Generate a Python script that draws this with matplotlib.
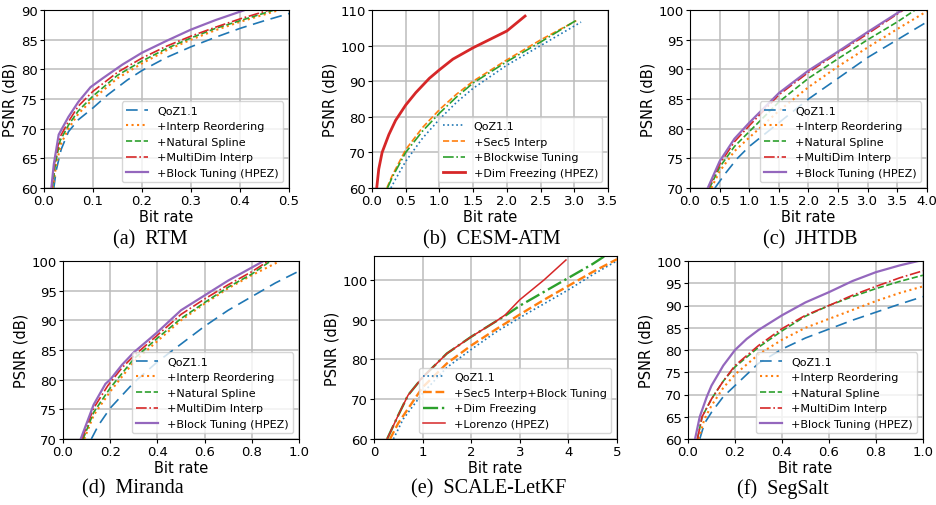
import numpy as np
import matplotlib
matplotlib.use("Agg")
import matplotlib.pyplot as plt

W, H = 937, 506

# ---- (a) RTM ----
rtm_qoz_x = [0.02, 0.025, 0.035, 0.05, 0.07, 0.1, 0.13, 0.17, 0.2, 0.25, 0.3, 0.35, 0.4, 0.45, 0.5]
rtm_qoz_y = [60, 63, 66.5, 69.5, 71.5, 73.5, 75.7, 78.2, 79.8, 82, 83.8, 85.4, 86.9, 88.2, 89.4]
rtm_reo_x = [0.018, 0.025, 0.035, 0.05, 0.07, 0.1, 0.15, 0.2, 0.25, 0.3, 0.35, 0.4, 0.48]
rtm_reo_y = [60, 64, 67.5, 70, 72.5, 75, 78.5, 81, 83.2, 85, 86.6, 88, 90]
rtm_spl_x = [0.017, 0.024, 0.033, 0.05, 0.07, 0.1, 0.15, 0.2, 0.25, 0.3, 0.35, 0.4, 0.47]
rtm_spl_y = [60, 64.5, 68, 70.6, 73, 75.5, 79, 81.4, 83.5, 85.3, 86.9, 88.2, 90]
rtm_mdi_x = [0.016, 0.022, 0.032, 0.05, 0.07, 0.1, 0.15, 0.2, 0.25, 0.3, 0.35, 0.4, 0.46]
rtm_mdi_y = [60, 64.5, 68.5, 71.2, 73.8, 76.3, 79.5, 81.9, 83.9, 85.6, 87.1, 88.5, 90]
rtm_blk_x = [0.015, 0.02, 0.03, 0.05, 0.07, 0.095, 0.12, 0.16, 0.2, 0.25, 0.3, 0.35, 0.41]
rtm_blk_y = [60, 64, 69, 72, 74.5, 77, 78.5, 80.8, 82.8, 84.8, 86.7, 88.3, 90]

# ---- (b) CESM-ATM ----
cesm_qoz_x = [0.28, 0.35, 0.5, 0.75, 1.0, 1.25, 1.5, 2.0, 2.5, 3.1]
cesm_qoz_y = [60, 62.5, 67.5, 74, 79.3, 84, 88, 94.5, 100, 106.6]
cesm_sec_x = [0.22, 0.3, 0.5, 0.75, 1.0, 1.25, 1.5, 2.0, 2.5, 3.03]
cesm_sec_y = [60, 63.5, 70.8, 77, 82, 86.3, 90, 96, 101.6, 107]
cesm_blk_x = [0.23, 0.3, 0.5, 0.75, 1.0, 1.25, 1.5, 2.0, 2.5, 3.02]
cesm_blk_y = [60, 63, 70, 76, 81, 85.5, 89.5, 95.5, 101, 107]
cesm_dim_x = [0.07, 0.1, 0.15, 0.25, 0.35, 0.5, 0.65, 0.85, 1.0, 1.2, 1.5, 2.0, 2.27]
cesm_dim_y = [60, 65.3, 70, 75, 79, 83.3, 86.8, 90.8, 93.2, 96.2, 99.4, 104.1, 108.3]

# ---- (c) JHTDB ----
jh_qoz_x = [0.42, 0.6, 0.8, 1.0, 1.5, 2.0, 2.5, 3.0, 3.5, 4.0]
jh_qoz_y = [70, 72.5, 75, 77, 81, 85, 88.5, 92, 95, 98]
jh_reo_x = [0.36, 0.5, 0.75, 1.0, 1.5, 2.0, 2.5, 3.0, 3.5, 4.0]
jh_reo_y = [70, 72.8, 76.2, 78.5, 83, 87, 90.5, 93.7, 96.8, 99.8]
jh_spl_x = [0.33, 0.5, 0.75, 1.0, 1.5, 2.0, 2.5, 3.0, 3.5, 3.8]
jh_spl_y = [70, 73.5, 77, 79.5, 84.5, 88.5, 91.8, 95, 98, 100]
jh_mdi_x = [0.31, 0.5, 0.75, 1.0, 1.5, 2.0, 2.5, 3.0, 3.6]
jh_mdi_y = [70, 74, 77.8, 80.5, 85.7, 89.5, 92.8, 96, 100]
jh_blk_x = [0.3, 0.5, 0.75, 1.0, 1.5, 2.0, 2.5, 3.0, 3.58]
jh_blk_y = [70, 74.5, 78.3, 81, 86, 89.8, 93, 96.3, 100]

# ---- (d) Miranda ----
mir_qoz_x = [0.12, 0.15, 0.2, 0.3, 0.4, 0.5, 0.6, 0.7, 0.8, 0.9, 1.0]
mir_qoz_y = [70, 72.3, 75.2, 79.5, 83, 86, 89, 91.7, 94, 96.3, 98.3]
mir_reo_x = [0.09, 0.13, 0.2, 0.3, 0.4, 0.5, 0.6, 0.7, 0.8, 0.92]
mir_reo_y = [70, 74, 78, 83, 86.5, 90, 92.8, 95.4, 97.6, 100]
mir_spl_x = [0.085, 0.13, 0.2, 0.3, 0.4, 0.5, 0.6, 0.7, 0.8, 0.88]
mir_spl_y = [70, 74.5, 78.6, 83.5, 87, 90.3, 93, 95.6, 97.8, 100]
mir_mdi_x = [0.08, 0.13, 0.19, 0.25, 0.3, 0.4, 0.5, 0.6, 0.7, 0.8, 0.87]
mir_mdi_y = [70, 75.2, 79, 82, 84, 87.5, 91, 93.6, 96, 98.2, 100]
mir_blk_x = [0.075, 0.13, 0.18, 0.2, 0.25, 0.3, 0.4, 0.5, 0.6, 0.7, 0.85]
mir_blk_y = [70, 75.8, 79.3, 80, 82.5, 84.6, 88, 91.7, 94.2, 96.7, 100]

# ---- (e) SCALE-LetKF ----
sc_qoz_x = [0.4, 0.6, 1.0, 1.5, 2.0, 2.5, 3.0, 3.5, 4.0, 4.5, 5.0]
sc_qoz_y = [60, 65, 71.5, 78, 82.5, 86.8, 90.5, 94, 97.5, 101.3, 104.8]
sc_sec_x = [0.33, 0.5, 1.0, 1.5, 2.0, 2.5, 3.0, 3.5, 4.0, 4.5, 5.0]
sc_sec_y = [60, 64, 73, 79, 83.5, 87.5, 91.3, 95, 98.5, 102, 105.2]
sc_dim_x = [0.27, 0.5, 0.7, 1.0, 1.5, 2.0, 2.5, 2.7, 3.0, 3.5, 4.0, 4.5, 4.75]
sc_dim_y = [60, 66, 71, 75.5, 81.5, 85.7, 89.5, 91.0, 93.5, 97, 100.5, 104, 106]
sc_lor_x = [0.27, 0.5, 0.7, 1.0, 1.5, 2.0, 2.5, 2.7, 3.0, 3.5, 3.95]
sc_lor_y = [60, 66, 71, 75.5, 81.5, 85.7, 89.5, 91.2, 95, 100, 105]

# ---- (f) SegSalt ----
seg_qoz_x = [0.05, 0.07, 0.1, 0.15, 0.2, 0.3, 0.4, 0.5, 0.6, 0.7, 0.8, 0.9, 1.0]
seg_qoz_y = [60, 63.5, 66, 69.5, 72, 77, 80.2, 82.7, 84.7, 86.7, 88.5, 90.3, 92]
seg_reo_x = [0.045, 0.07, 0.1, 0.15, 0.2, 0.3, 0.4, 0.5, 0.6, 0.7, 0.8, 0.9, 1.0]
seg_reo_y = [60, 64.5, 67.5, 71.5, 74.5, 79, 82.3, 85, 87, 89, 91, 92.8, 94.3]
seg_spl_x = [0.04, 0.06, 0.1, 0.15, 0.2, 0.3, 0.4, 0.5, 0.6, 0.7, 0.8, 0.9, 1.0]
seg_spl_y = [60, 65, 69, 73, 76.2, 80.6, 84.3, 87.6, 90, 92, 93.8, 95.4, 96.8]
seg_mdi_x = [0.04, 0.06, 0.1, 0.15, 0.2, 0.3, 0.4, 0.5, 0.6, 0.7, 0.8, 0.9, 1.0]
seg_mdi_y = [60, 65, 69, 73, 76.5, 81, 84.8, 87.8, 90, 92.3, 94.3, 96.2, 97.8]
seg_blk_x = [0.03, 0.05, 0.08, 0.1, 0.15, 0.2, 0.25, 0.3, 0.4, 0.5, 0.6, 0.7, 0.8, 0.9, 0.98]
seg_blk_y = [60, 65, 69.5, 72, 76.5, 80, 82.5, 84.5, 87.8, 90.7, 93, 95.5, 97.5, 99, 100]

C_BLUE, C_ORANGE, C_GREEN, C_RED, C_PURPLE = "#1f77b4", "#ff7f0e", "#2ca02c", "#d62728", "#9467bd"
LONGDASH = (0, (7, 4))


def px_axes(fig, l, t, r, b):
    return fig.add_axes([l / W, 1 - b / H, (r - l) / W, (b - t) / H])


def style(ax, xlim, ylim, xticks, yticks, xfmt="{:.1f}"):
    ax.set_xlim(*xlim)
    ax.set_ylim(*ylim)
    ax.set_xticks(xticks)
    ax.set_xticklabels([xfmt.format(v) for v in xticks])
    ax.set_yticks(yticks)
    ax.tick_params(labelsize=9.5, length=3, pad=1.5)
    ax.grid(True, color="#bcbcbc", linewidth=1.1)
    ax.set_axisbelow(True)
    ax.set_xlabel("Bit rate", fontsize=10.5, labelpad=1)
    ax.set_ylabel("PSNR (dB)", fontsize=10.5, labelpad=2)
    ax.legend(loc="lower right", fontsize=8, framealpha=0.8)


fig = plt.figure(figsize=(W / 100, H / 100), dpi=100)

# (a)
ax = px_axes(fig, 44, 11, 289, 189)
ax.plot(rtm_qoz_x, rtm_qoz_y, color=C_BLUE, ls=LONGDASH, lw=1.2, label="QoZ1.1")
ax.plot(rtm_reo_x, rtm_reo_y, color=C_ORANGE, ls=":", lw=1.5, label="+Interp Reordering")
ax.plot(rtm_spl_x, rtm_spl_y, color=C_GREEN, ls="--", lw=1.2, label="+Natural Spline")
ax.plot(rtm_mdi_x, rtm_mdi_y, color=C_RED, ls="-.", lw=1.2, label="+MultiDim Interp")
ax.plot(rtm_blk_x, rtm_blk_y, color=C_PURPLE, ls="-", lw=1.6, label="+Block Tuning (HPEZ)")
style(ax, (0, 0.5), (60, 90), np.arange(0, 0.51, 0.1), np.arange(60, 91, 5))

# (b)
ax = px_axes(fig, 372, 11, 608, 189)
ax.plot(cesm_qoz_x, cesm_qoz_y, color=C_BLUE, ls=":", lw=1.2, label="QoZ1.1")
ax.plot(cesm_sec_x, cesm_sec_y, color=C_ORANGE, ls="--", lw=1.2, label="+Sec5 Interp")
ax.plot(cesm_blk_x, cesm_blk_y, color=C_GREEN, ls="-.", lw=1.2, label="+Blockwise Tuning")
ax.plot(cesm_dim_x, cesm_dim_y, color=C_RED, ls="-", lw=2.0, label="+Dim Freezing (HPEZ)")
style(ax, (0, 3.5), (60, 110), np.arange(0, 3.51, 0.5), np.arange(60, 111, 10))

# (c)
ax = px_axes(fig, 690, 11, 927, 189)
ax.plot(jh_qoz_x, jh_qoz_y, color=C_BLUE, ls=LONGDASH, lw=1.2, label="QoZ1.1")
ax.plot(jh_reo_x, jh_reo_y, color=C_ORANGE, ls=":", lw=1.5, label="+Interp Reordering")
ax.plot(jh_spl_x, jh_spl_y, color=C_GREEN, ls="--", lw=1.2, label="+Natural Spline")
ax.plot(jh_mdi_x, jh_mdi_y, color=C_RED, ls="-.", lw=1.2, label="+MultiDim Interp")
ax.plot(jh_blk_x, jh_blk_y, color=C_PURPLE, ls="-", lw=1.6, label="+Block Tuning (HPEZ)")
style(ax, (0, 4), (70, 100), np.arange(0, 4.01, 0.5), np.arange(70, 101, 5))

# (d)
ax = px_axes(fig, 63, 262, 299, 440)
ax.plot(mir_qoz_x, mir_qoz_y, color=C_BLUE, ls=LONGDASH, lw=1.2, label="QoZ1.1")
ax.plot(mir_reo_x, mir_reo_y, color=C_ORANGE, ls=":", lw=1.5, label="+Interp Reordering")
ax.plot(mir_spl_x, mir_spl_y, color=C_GREEN, ls="--", lw=1.2, label="+Natural Spline")
ax.plot(mir_mdi_x, mir_mdi_y, color=C_RED, ls="-.", lw=1.2, label="+MultiDim Interp")
ax.plot(mir_blk_x, mir_blk_y, color=C_PURPLE, ls="-", lw=1.6, label="+Block Tuning (HPEZ)")
style(ax, (0, 1), (70, 100), np.arange(0, 1.01, 0.2), np.arange(70, 101, 5))

# (e)
ax = px_axes(fig, 374, 257, 617, 440)
ax.plot(sc_qoz_x, sc_qoz_y, color=C_BLUE, ls=":", lw=1.2, label="QoZ1.1")
ax.plot(sc_sec_x, sc_sec_y, color=C_ORANGE, ls="--", lw=1.7, label="+Sec5 Interp+Block Tuning")
ax.plot(sc_dim_x, sc_dim_y, color=C_GREEN, ls="-.", lw=1.7, label="+Dim Freezing")
ax.plot(sc_lor_x, sc_lor_y, color=C_RED, ls="-", lw=1.1, label="+Lorenzo (HPEZ)")
style(ax, (0, 5), (60, 106), np.arange(0, 6, 1), np.arange(60, 101, 10), xfmt="{:.0f}")

# (f)
ax = px_axes(fig, 688, 262, 923, 440)
ax.plot(seg_qoz_x, seg_qoz_y, color=C_BLUE, ls=LONGDASH, lw=1.2, label="QoZ1.1")
ax.plot(seg_reo_x, seg_reo_y, color=C_ORANGE, ls=":", lw=1.5, label="+Interp Reordering")
ax.plot(seg_spl_x, seg_spl_y, color=C_GREEN, ls="--", lw=1.2, label="+Natural Spline")
ax.plot(seg_mdi_x, seg_mdi_y, color=C_RED, ls="-.", lw=1.2, label="+MultiDim Interp")
ax.plot(seg_blk_x, seg_blk_y, color=C_PURPLE, ls="-", lw=1.6, label="+Block Tuning (HPEZ)")
style(ax, (0, 1), (60, 100), np.arange(0, 1.01, 0.2), np.arange(60, 101, 5))

# captions
captions = [("(a)  RTM", 150, 240), ("(b)  CESM-ATM", 492, 240), ("(c)  JHTDB", 810, 240),
            ("(d)  Miranda", 133, 489), ("(e)  SCALE-LetKF", 489, 489), ("(f)  SegSalt", 783, 489)]
for txt, cx, cy in captions:
    fig.text(cx / W, 1 - cy / H, txt, ha="center", va="center", fontsize=14.5,
             family="Liberation Serif")

fig.savefig("out.png", dpi=100)
